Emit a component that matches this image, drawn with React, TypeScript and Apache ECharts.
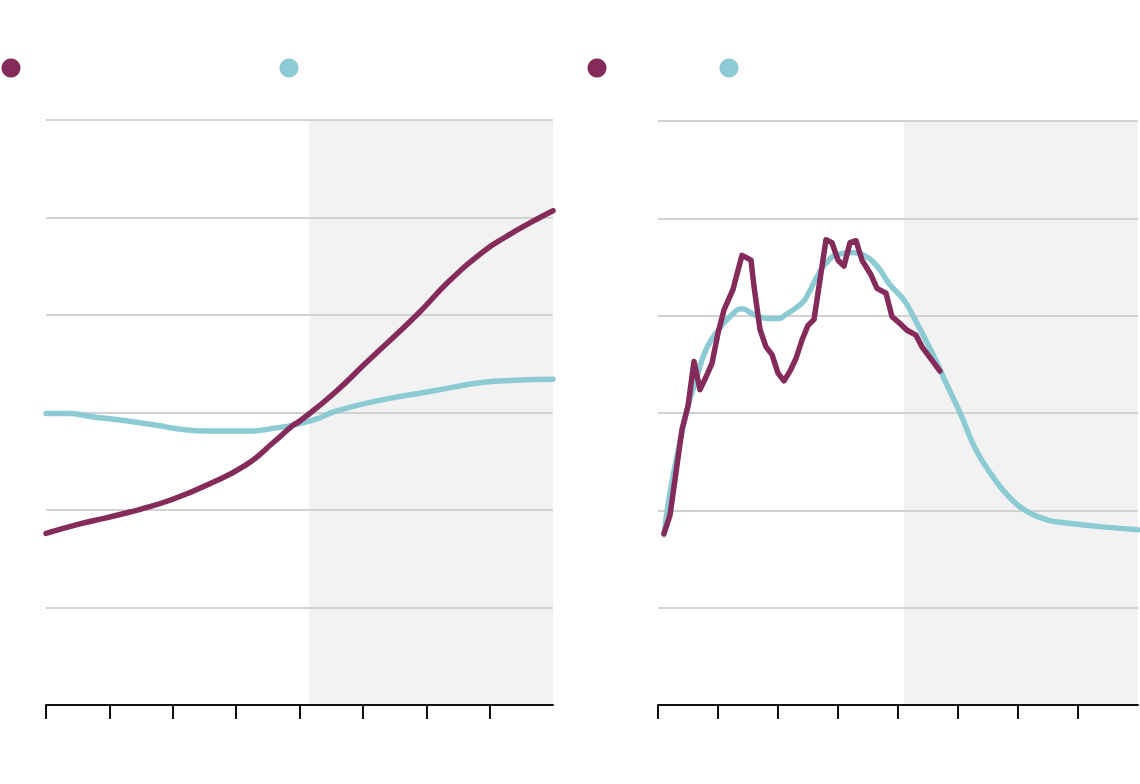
import React, { useEffect, useRef } from "react";
import * as echarts from "echarts";

const PURPLE = "#852b5b";
const TEAL = "#8ccbd4";

// Left panel
const leftPurpleYears = [1940, 1951, 1959, 1970, 1980, 1991, 2003, 2012, 2018, 2020, 2031, 2041, 2057, 2067, 2078, 2085, 2093, 2100];
const leftPurpleValues = [1.76, 1.86, 1.92, 2.01, 2.11, 2.26, 2.46, 2.7, 2.87, 2.91, 3.2, 3.51, 4.0, 4.34, 4.65, 4.8, 4.95, 5.07];
const leftTealYears = [1940, 1947, 1954, 1964, 1975, 1982, 1991, 2005, 2012, 2018, 2026, 2031, 2046, 2062, 2078, 2088, 2100];
const leftTealValues = [2.99, 2.99, 2.96, 2.92, 2.87, 2.83, 2.81, 2.81, 2.84, 2.87, 2.94, 3.01, 3.13, 3.22, 3.31, 3.33, 3.34];

// Right panel
const rightPurpleYears = [1942, 1944, 1948, 1950, 1952, 1954, 1956, 1958, 1960, 1962, 1965, 1968, 1971, 1972, 1974, 1976, 1978, 1980, 1982, 1984, 1986, 1988, 1990, 1992, 1996, 1998, 2000, 2002, 2004, 2006, 2008, 2011, 2013, 2016, 2018, 2021, 2023, 2026, 2028, 2034];
const rightPurpleValues = [1.76, 1.95, 2.83, 3.07, 3.53, 3.24, 3.37, 3.51, 3.82, 4.06, 4.27, 4.62, 4.57, 4.3, 3.86, 3.68, 3.6, 3.41, 3.33, 3.43, 3.56, 3.75, 3.9, 3.96, 4.78, 4.75, 4.57, 4.51, 4.75, 4.77, 4.57, 4.42, 4.28, 4.23, 3.99, 3.91, 3.85, 3.8, 3.68, 3.43];
const rightTealYears = [1942, 1944, 1947, 1950, 1953, 1956, 1960, 1964, 1968, 1972, 1977, 1980, 1983, 1988, 1990, 1993, 1996, 2000, 2005, 2008, 2013, 2017, 2022, 2025, 2032, 2036, 2041, 2046, 2052, 2057, 2063, 2070, 2076, 2088, 2100];
const rightTealValues = [1.75, 2.18, 2.66, 3.07, 3.37, 3.65, 3.85, 3.99, 4.07, 4.01, 3.97, 3.97, 4.02, 4.13, 4.22, 4.4, 4.54, 4.63, 4.65, 4.63, 4.51, 4.33, 4.16, 4.0, 3.58, 3.31, 2.98, 2.62, 2.33, 2.14, 1.99, 1.9, 1.87, 1.83, 1.8];

const xTicks = [1940, 1960, 1980, 2000, 2020, 2040, 2060, 2080];
const leftShadeStart = 2023;
const rightShadeStart = 2022;
const xMin = 1940;
const xMax = 2100;

const pairs = (xs: number[], ys: number[]) => xs.map((x, i) => [x, ys[i]]);

export default function App() {
  const ref = useRef<HTMLDivElement>(null);
  useEffect(() => {
    if (!ref.current) return;
    const chart = echarts.init(ref.current, undefined, { renderer: "svg" });
    const xAxisBase = (gridIndex: number) => ({
      type: "value",
      gridIndex,
      z: 5,
      min: xMin,
      max: xMax,
      interval: 20,
      axisLine: { show: true, onZero: false, lineStyle: { color: "#111", width: 2 } },
      axisTick: { show: true, length: 14, customValues: xTicks, lineStyle: { color: "#111", width: 2 } },
      axisLabel: { show: false },
      splitLine: { show: false },
    });
    const yAxisBase = (gridIndex: number) => ({
      type: "value",
      gridIndex,
      z: 2,
      min: 0,
      max: 6,
      interval: 1,
      axisLine: { show: false },
      axisTick: { show: false },
      axisLabel: { show: false },
      splitLine: { show: true, lineStyle: { color: "#d2d2d2", width: 2 } },
    });
    const lineSeries = (idx: number, data: number[][], color: string, smooth: number | boolean) => ({
      type: "line",
      xAxisIndex: idx,
      yAxisIndex: idx,
      data,
      smooth,
      showSymbol: false,
      symbol: "none",
      z: 3,
      lineStyle: { color, width: 5.5, cap: "round", join: "round" },
    });
    const shadeSeries = (idx: number, start: number) => ({
      type: "line",
      xAxisIndex: idx,
      yAxisIndex: idx,
      data: [],
      z: 1,
      silent: true,
      markArea: {
        silent: true,
        itemStyle: { color: "#f2f2f2" },
        data: [[{ xAxis: start, yAxis: 0 }, { xAxis: xMax, yAxis: 6 }]],
      },
    });
    chart.setOption({
      animation: false,
      grid: [
        { left: 46, top: 120, width: 507, height: 585 },
        { left: 658, top: 121, width: 480, height: 584 },
      ],
      xAxis: [xAxisBase(0), xAxisBase(1)],
      yAxis: [yAxisBase(0), yAxisBase(1)],
      series: [
        shadeSeries(0, leftShadeStart),
        shadeSeries(1, rightShadeStart),
        lineSeries(0, pairs(leftTealYears, leftTealValues), TEAL, 0.5),
        lineSeries(0, pairs(leftPurpleYears, leftPurpleValues), PURPLE, 0.5),
        lineSeries(1, pairs(rightTealYears, rightTealValues), TEAL, 0.5),
        lineSeries(1, pairs(rightPurpleYears, rightPurpleValues), PURPLE, false),
      ],
      graphic: [
        { type: "circle", shape: { cx: 11, cy: 68, r: 9.5 }, style: { fill: PURPLE } },
        { type: "circle", shape: { cx: 289, cy: 68, r: 9.5 }, style: { fill: TEAL } },
        { type: "circle", shape: { cx: 597, cy: 68, r: 9.5 }, style: { fill: PURPLE } },
        { type: "circle", shape: { cx: 729, cy: 68, r: 9.5 }, style: { fill: TEAL } },
      ],
    });
    return () => chart.dispose();
  }, []);
  return (
    <div
      ref={ref}
      style={{ position: "fixed", left: 0, top: 0, width: 1140, height: 784, background: "#fff" }}
    />
  );
}
